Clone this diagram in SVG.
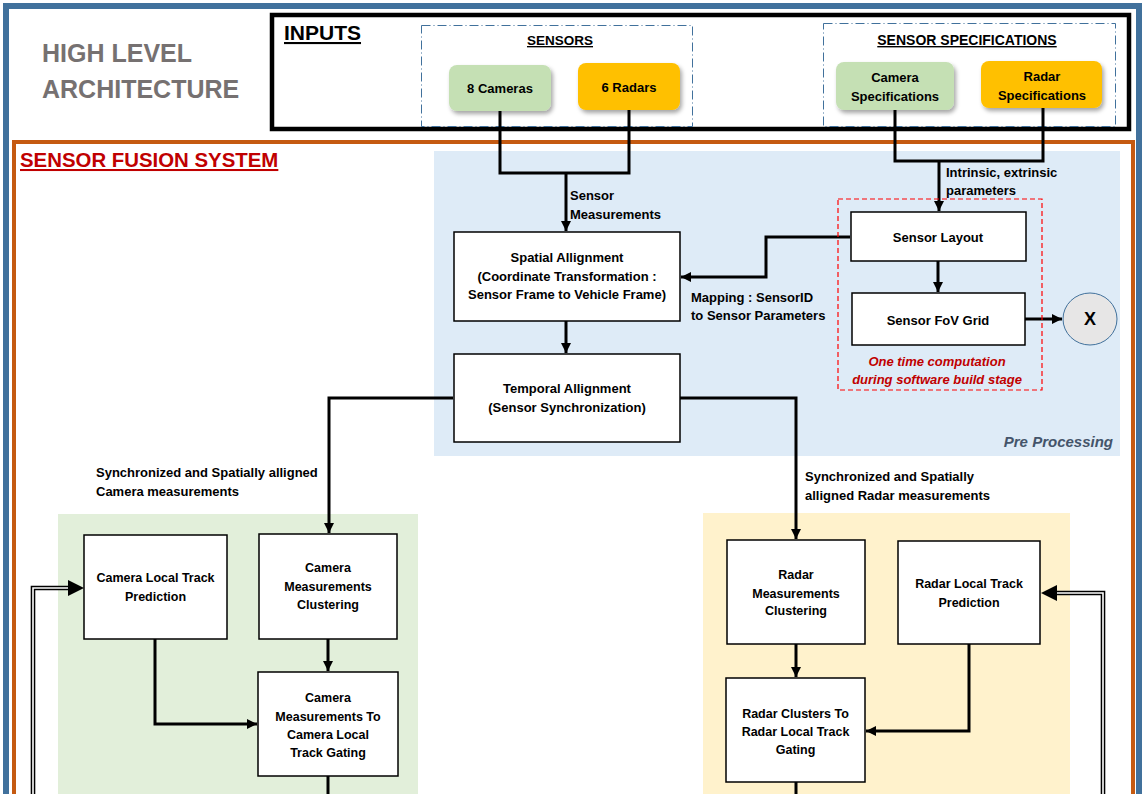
<svg xmlns="http://www.w3.org/2000/svg" width="1146" height="794" viewBox="0 0 1146 794">
<defs>
<style>
text{font-family:"Liberation Sans",Arial,sans-serif;font-weight:bold;fill:#000}
.t13{font-size:13px}
.t125{font-size:12.5px}
.mid{text-anchor:middle}
.box{fill:#fff;stroke:#000;stroke-width:1.5}
.conn{fill:none;stroke:#000;stroke-width:3}
.dbl{fill:none;stroke:#000;stroke-width:4.6}
.dblin{fill:none;stroke:#fff;stroke-width:1.6}
.dashdot{fill:none;stroke:#41719C;stroke-width:1;stroke-dasharray:9 3 1 3}
</style>
<marker id="ah" markerUnits="userSpaceOnUse" markerWidth="12" markerHeight="12" refX="10" refY="5" orient="auto">
<path d="M0,0 L10,5 L0,10 Z" fill="#000"/>
</marker>
<filter id="sh" x="-20%" y="-20%" width="150%" height="160%">
<feDropShadow dx="2" dy="3" stdDeviation="2" flood-color="#000" flood-opacity="0.35"/>
</filter>
</defs>

<rect width="1146" height="794" fill="#fff"/>

<!-- outer frames -->
<g id="frame">
<rect x="6" y="6" width="1133" height="800" fill="none" stroke="#41719C" stroke-width="6"/>
<rect x="14" y="142" width="1119" height="670" fill="none" stroke="#C55A11" stroke-width="4"/>
<text x="42" y="62" style="font-size:25px;fill:#767171">HIGH LEVEL</text>
<text x="42" y="98" style="font-size:25px;fill:#767171">ARCHITECTURE</text>
<text x="20" y="167" style="font-size:20.4px;fill:#C00000" text-decoration="underline">SENSOR FUSION SYSTEM</text>
</g>

<!-- background regions -->
<g id="preprocessing-region">
<rect x="434" y="151" width="686" height="305" fill="#DEEBF7"/>
<text x="1113" y="447" text-anchor="end" style="font-size:15px;font-style:italic;fill:#44546A">Pre Processing</text>
</g>
<g id="camera-region"><rect x="58" y="514" width="360" height="290" fill="#E2EFDA"/></g>
<g id="radar-region"><rect x="703" y="513" width="367" height="290" fill="#FFF2CC"/></g>

<!-- inputs -->
<g id="inputs">
<rect x="272" y="15" width="857" height="114" fill="none" stroke="#000" stroke-width="4.5"/>
<text x="284" y="40" style="font-size:21px" text-decoration="underline">INPUTS</text>
</g>
<g id="sensors-group">
<rect x="421.5" y="25.5" width="271" height="101" class="dashdot"/>
<text x="560" y="45" class="mid" style="font-size:13.5px" text-decoration="underline">SENSORS</text>
</g>
<g id="cameras">
<rect x="449" y="65" width="102" height="46" rx="8" fill="#C5E0B4" filter="url(#sh)"/>
<text x="500" y="93" class="mid t13">8 Cameras</text>
</g>
<g id="radars">
<rect x="578" y="63" width="102" height="47" rx="8" fill="#FFC000" filter="url(#sh)"/>
<text x="629" y="92" class="mid t13">6 Radars</text>
</g>
<g id="specs-group">
<rect x="823.5" y="23.5" width="292" height="103" class="dashdot"/>
<text x="967" y="45" class="mid" style="font-size:14px" text-decoration="underline">SENSOR SPECIFICATIONS</text>
</g>
<g id="camera-specs">
<rect x="836" y="62" width="118" height="48" rx="8" fill="#C5E0B4" filter="url(#sh)"/>
<text x="895" y="82" class="mid t13">Camera</text>
<text x="895" y="101" class="mid t13">Specifications</text>
</g>
<g id="radar-specs">
<rect x="981" y="61" width="121" height="47" rx="8" fill="#FFC000" filter="url(#sh)"/>
<text x="1042" y="81" class="mid t13">Radar</text>
<text x="1042" y="100" class="mid t13">Specifications</text>
</g>

<!-- connectors -->
<g id="connectors">
<path class="conn" d="M500,111 V173 H629 V110"/>
<path class="conn" d="M566,173 V231" marker-end="url(#ah)"/>
<path class="conn" d="M895,110 V161 H1043 V108"/>
<path class="conn" d="M939,161 V211" marker-end="url(#ah)"/>
<path class="conn" d="M850,237 H766 V277 H681" marker-end="url(#ah)"/>
<path class="conn" d="M938,261 V292" marker-end="url(#ah)"/>
<path class="conn" d="M1025,319 H1062" marker-end="url(#ah)"/>
<path class="conn" d="M566,321 V353" marker-end="url(#ah)"/>
<path class="conn" d="M453,398 H329 V533" marker-end="url(#ah)"/>
<path class="conn" d="M679,398 H796 V539" marker-end="url(#ah)"/>
<path class="conn" d="M328,639 V671" marker-end="url(#ah)"/>
<path class="conn" d="M155,639 V724 H257" marker-end="url(#ah)"/>
<path class="conn" d="M328,776 V800"/>
<path class="conn" d="M796,644 V677" marker-end="url(#ah)"/>
<path class="conn" d="M969,644 V731 H866" marker-end="url(#ah)"/>
<path class="conn" d="M796,782 V800"/>
<path class="dbl" d="M33,800 V588 H70"/>
<path class="dblin" d="M33,800 V588 H70"/>
<path d="M68,580 L84,588 L68,596 Z" fill="#000"/>
<path class="dbl" d="M1103,800 V593 H1056"/>
<path class="dblin" d="M1103,800 V593 H1056"/>
<path d="M1057,585 L1041,593 L1057,601 Z" fill="#000"/>
<text x="570" y="200" class="t13">Sensor</text>
<text x="570" y="219" class="t13">Measurements</text>
<text x="946" y="177" class="t13">Intrinsic, extrinsic</text>
<text x="946" y="195" class="t13">parameters</text>
<text x="691" y="302" class="t13">Mapping : SensorID</text>
<text x="691" y="320" class="t13">to Sensor Parameters</text>
<text x="96" y="477" class="t13">Synchronized and Spatially alligned</text>
<text x="96" y="496" class="t13">Camera measurements</text>
<text x="805" y="481" class="t13">Synchronized and Spatially</text>
<text x="805" y="500" class="t13">alligned Radar measurements</text>
</g>

<!-- pre processing nodes -->
<g id="spatial-alignment">
<rect x="454" y="232" width="226" height="89" class="box"/>
<text x="567" y="262" class="mid t13">Spatial Allignment</text>
<text x="567" y="281" class="mid t13">(Coordinate Transformation :</text>
<text x="567" y="299" class="mid t13">Sensor Frame to Vehicle Frame)</text>
</g>
<g id="temporal-alignment">
<rect x="454" y="354" width="226" height="88" class="box"/>
<text x="567" y="393" class="mid t13">Temporal Allignment</text>
<text x="567" y="412" class="mid t13">(Sensor Synchronization)</text>
</g>
<g id="build-stage">
<rect x="838" y="199" width="204" height="191" fill="none" stroke="#FF0000" stroke-width="1.2" stroke-dasharray="5 3"/>
<text x="937" y="366" class="mid t13" style="font-style:italic;fill:#C00000">One time computation</text>
<text x="937" y="384" class="mid t13" style="font-style:italic;fill:#C00000">during software build stage</text>
</g>
<g id="sensor-layout">
<rect x="851" y="212" width="175" height="49" class="box"/>
<text x="938" y="242" class="mid t13">Sensor Layout</text>
</g>
<g id="sensor-fov-grid">
<rect x="852" y="293" width="173" height="52" class="box"/>
<text x="938" y="325" class="mid t13">Sensor FoV Grid</text>
</g>
<g id="x-node">
<ellipse cx="1090" cy="319" rx="27" ry="26" fill="#E7E6E6" stroke="#41719C" stroke-width="1"/>
<text x="1090" y="325" class="mid" style="font-size:18px">X</text>
</g>

<!-- camera branch -->
<g id="camera-local-track-prediction">
<rect x="84" y="535" width="143" height="104" class="box"/>
<text x="155.5" y="582" class="mid t125">Camera Local Track</text>
<text x="155.5" y="601" class="mid t125">Prediction</text>
</g>
<g id="camera-measurements-clustering">
<rect x="259" y="534" width="138" height="105" class="box"/>
<text x="328" y="572" class="mid t125">Camera</text>
<text x="328" y="591" class="mid t125">Measurements</text>
<text x="328" y="609" class="mid t125">Clustering</text>
</g>
<g id="camera-gating">
<rect x="258" y="672" width="140" height="104" class="box"/>
<text x="328" y="702" class="mid t125">Camera</text>
<text x="328" y="721" class="mid t125">Measurements To</text>
<text x="328" y="739" class="mid t125">Camera Local</text>
<text x="328" y="757" class="mid t125">Track Gating</text>
</g>

<!-- radar branch -->
<g id="radar-measurements-clustering">
<rect x="727" y="540" width="138" height="104" class="box"/>
<text x="796" y="579" class="mid t125">Radar</text>
<text x="796" y="598" class="mid t125">Measurements</text>
<text x="796" y="615" class="mid t125">Clustering</text>
</g>
<g id="radar-local-track-prediction">
<rect x="898" y="541" width="142" height="103" class="box"/>
<text x="969" y="588" class="mid t125">Radar Local Track</text>
<text x="969" y="607" class="mid t125">Prediction</text>
</g>
<g id="radar-gating">
<rect x="726" y="678" width="139" height="104" class="box"/>
<text x="795.5" y="718" class="mid t125">Radar Clusters To</text>
<text x="795.5" y="736" class="mid t125">Radar Local Track</text>
<text x="795.5" y="754" class="mid t125">Gating</text>
</g>
</svg>
